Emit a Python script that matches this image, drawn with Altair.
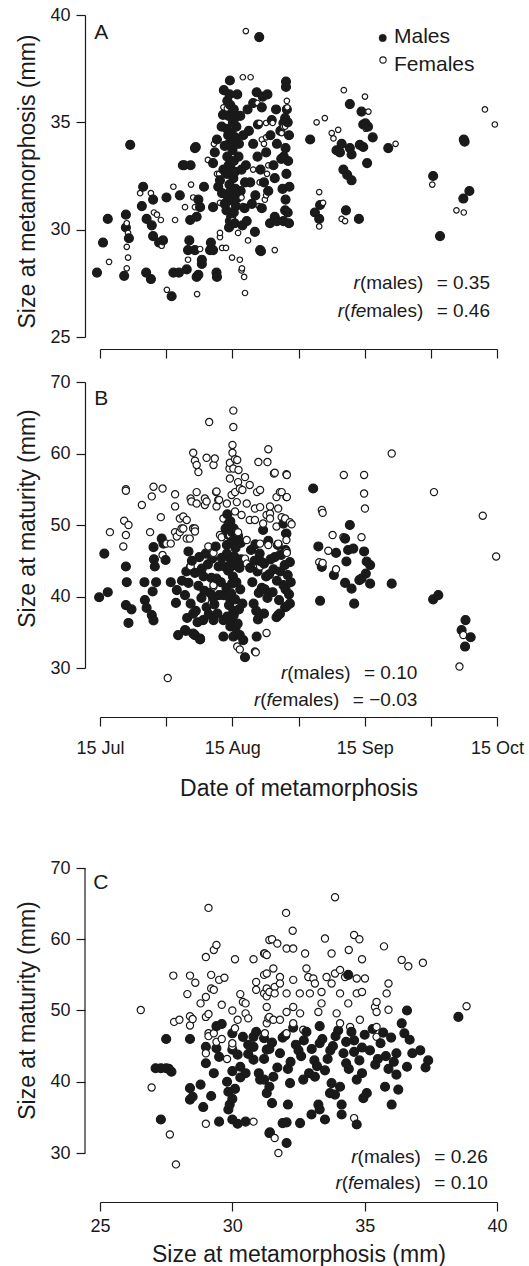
import altair as alt
import pandas as pd

FONT = "Liberation Sans"
INK = "#1a1a1a"

# ---------------- data ----------------
# Panel A: (days after 15 Jul, size at metamorphosis mm)
a_males = [
    (-0.7, 28.0), (0.7, 29.4), (1.8, 30.5), (7.0, 33.95), (6.0, 30.7), (6.0, 30.1), (6.7, 29.6), (5.6, 27.85),
    (10.0, 32.0), (12.3, 31.4), (9.7, 31.1), (10.8, 30.5), (12.0, 30.2), (12.3, 29.7), (13.7, 29.4), (14.6, 29.5),
    (10.7, 28.0), (11.8, 27.7), (15.4, 31.5), (16.6, 26.9), (17.0, 28.0), (18.3, 28.0), (18.5, 31.6), (19.2, 33.0),
    (21.0, 33.0), (22.2, 33.85), (22.4, 27.8), (23.6, 28.4), (20.7, 29.5), (20.9, 30.45), (22.4, 30.6), (23.2, 31.05),
    (22.8, 31.4), (24.1, 32.0), (25.7, 29.4), (25.5, 29.05), (27.1, 27.8), (26.2, 31.05), (27.8, 32.3), (27.4, 32.0),
    (28.3, 31.7), (26.2, 33.1), (26.6, 33.6), (27.1, 34.2), (28.2, 34.8), (28.5, 35.35), (28.7, 36.5), (30.1, 36.95),
    (22.0, 29.05), (20.4, 29.05), (23.6, 28.6), (27.0, 28.0), (22.8, 27.9), (20.1, 28.15), (26.2, 29.05), (22.0, 33.8),
    (19.5, 33.0),
    (29.5, 36.0), (30.2, 35.8), (31.0, 35.6), (29.8, 35.3), (30.8, 35.0), (29.4, 34.7), (30.5, 34.5), (31.3, 34.3),
    (29.9, 34.0), (30.7, 33.7), (29.5, 33.4), (31.0, 33.2), (30.2, 32.9), (29.4, 32.6), (30.9, 32.4), (30.0, 32.1),
    (31.4, 31.9), (29.6, 31.6), (30.6, 31.4), (31.5, 31.1), (29.3, 30.9), (30.4, 30.6), (31.2, 30.3), (29.9, 30.1),
    (32.5, 35.3), (32.2, 34.0), (32.8, 32.8), (32.0, 31.5), (28.9, 31.2), (28.6, 32.8), (28.9, 33.9), (31.8, 36.3),
    (33.5, 31.0), (33.0, 30.2),
    (30.0, 36.3), (31.2, 35.2), (29.7, 34.4), (30.9, 33.9), (29.8, 33.0), (31.3, 32.7), (30.3, 31.8), (29.4, 31.3),
    (31.0, 30.8), (30.1, 30.4), (32.1, 33.4), (32.6, 31.8), (31.6, 34.8), (33.2, 34.4), (34.2, 35.6), (33.6, 32.2),
    (34.0, 30.4), (37.3, 29.0), (36.9, 38.97), (36.3, 36.4), (37.7, 36.2), (38.8, 36.3), (37.5, 35.7), (35.5, 35.9),
    (43.1, 36.9), (43.1, 36.65), (43.3, 35.6), (42.9, 35.2), (42.5, 34.97), (35.9, 29.9), (37.1, 29.05), (39.4, 30.3),
    (40.5, 30.6), (41.0, 30.4),
    (34.5, 34.6), (35.5, 34.0), (36.5, 33.4), (37.2, 32.8), (38.0, 32.2), (36.0, 31.6), (38.5, 33.6), (39.5, 34.4),
    (40.2, 33.0), (39.0, 31.8), (41.0, 34.0), (40.5, 32.4), (34.8, 32.2), (35.2, 31.2), (37.5, 31.0), (33.8, 33.0),
    (36.6, 34.9), (39.8, 35.1), (40.8, 35.6), (41.8, 34.6),
    (43.5, 35.0), (43.8, 34.4), (43.0, 33.8), (43.6, 33.2), (43.2, 32.6), (43.9, 32.0), (43.0, 31.4), (43.5, 30.8),
    (42.5, 30.4), (43.8, 30.3), (42.0, 33.3), (42.3, 31.9), (42.6, 33.4), (42.9, 30.9),
    (48.7, 34.2), (57.9, 35.85), (60.6, 35.5), (61.0, 34.9), (61.5, 34.95), (62.1, 34.8), (63.2, 34.3), (60.2, 33.95),
    (61.0, 33.85), (61.9, 33.1), (54.8, 33.7), (56.0, 34.0), (55.6, 33.6), (57.9, 33.8), (58.3, 33.5), (56.4, 32.8),
    (57.3, 32.55), (58.3, 32.3), (51.0, 31.15), (49.8, 30.8), (50.8, 30.5), (57.0, 30.9), (60.0, 30.5), (66.8, 33.8),
    (77.2, 32.5), (78.8, 29.7), (84.3, 34.2), (84.5, 34.1), (85.6, 31.8), (84.2, 31.45),
]
a_females = [
    (2.1, 28.5), (6.2, 30.3), (6.5, 29.85), (6.2, 29.2), (6.5, 28.7), (6.2, 28.2), (9.3, 31.7), (11.8, 31.7),
    (12.5, 30.8), (13.2, 30.7), (14.1, 30.45), (14.3, 29.25), (15.5, 27.2), (17.0, 32.0), (17.4, 30.45), (19.7, 31.05),
    (20.4, 28.6), (21.1, 32.1), (21.6, 31.5), (22.0, 31.05), (22.5, 27.0), (23.2, 29.1), (25.0, 33.25), (26.4, 34.0),
    (27.1, 32.6), (27.6, 32.6), (27.8, 29.65), (28.3, 29.15), (29.2, 29.15), (27.8, 31.25), (30.3, 30.5), (30.6, 28.7),
    (32.9, 28.2), (33.4, 27.8), (33.6, 27.05), (33.1, 37.1), (33.8, 39.25), (34.3, 29.5), (35.2, 33.95), (29.4, 35.65),
    (34.9, 37.1), (36.5, 35.9), (43.3, 36.0), (43.4, 35.7), (28.6, 35.7), (37.0, 34.97), (38.5, 34.97), (40.0, 34.97),
    (37.5, 34.2), (38.0, 34.0), (42.1, 34.5), (42.5, 34.8), (35.5, 32.8), (37.0, 32.2), (38.5, 31.6), (36.8, 31.1),
    (35.8, 31.5), (39.0, 33.0), (32.8, 31.5), (33.1, 31.1), (30.8, 30.45), (32.0, 29.85), (27.8, 29.85), (40.5, 29.05),
    (32.4, 28.6), (32.8, 28.1), (56.5, 36.5), (61.4, 36.2), (62.2, 35.5), (50.2, 35.0), (52.1, 35.2), (53.7, 34.5),
    (55.2, 34.65), (54.1, 34.25), (61.6, 34.7), (68.5, 34.0), (50.8, 31.75), (51.7, 31.25), (50.8, 30.15), (56.0, 30.5),
    (56.8, 30.4), (77.0, 32.1), (82.6, 30.9), (84.3, 30.8), (89.2, 35.6), (91.5, 34.9), (38.5, 34.3),
    (38.7, 32.6), (38.6, 31.8), (38.2, 31.4), (42.9, 34.8),
]

# Panel B: (days after 15 Jul, size at maturity mm)
b_males = [
    (-0.2, 39.9), (1.0, 46.0), (1.8, 40.6), (6.0, 44.2), (6.2, 42.0), (6.0, 38.8), (6.6, 36.3), (7.3, 38.2),
    (10.3, 42.0), (10.4, 39.5), (10.8, 38.4), (12.0, 37.4), (12.4, 36.65), (12.2, 40.7), (12.4, 46.9), (12.5, 45.2),
    (12.7, 44.2), (13.0, 42.0), (14.3, 48.1), (14.7, 47.4), (15.2, 45.1), (16.4, 42.0), (17.8, 40.9), (17.6, 39.1),
    (19.7, 40.2), (18.1, 34.6), (19.9, 35.2), (22.0, 34.6), (23.2, 34.0), (20.5, 41.9),
    (21.6, 37.6), (24.7, 38.5), (23.9, 36.7), (26.3, 36.7), (28.6, 36.7), (19.7, 35.3), (21.6, 34.8), (23.2, 34.1),
    (20.5, 46.3), (21.3, 45.0), (22.0, 43.3), (22.8, 41.5), (23.5, 39.8), (21.0, 39.0), (24.0, 42.8), (25.0, 44.5),
    (25.5, 40.5), (26.5, 38.9), (24.5, 46.0), (26.0, 45.3), (27.0, 42.5), (27.6, 40.2), (26.8, 47.0), (22.2, 38.0),
    (25.2, 37.5), (20.0, 43.5), (27.5, 44.2), (23.0, 45.5),
    (19.0, 42.2), (20.2, 37.0), (22.6, 36.4), (24.2, 40.8), (25.8, 42.6), (23.6, 43.9), (26.2, 39.8), (27.2, 37.6),
    (28.6, 34.4), (30.9, 34.4), (32.4, 34.6), (33.2, 33.9), (33.6, 31.5),
    (29.5, 51.5), (30.2, 50.5), (31.0, 49.5), (29.8, 48.6), (30.6, 47.7), (31.4, 46.8), (29.4, 46.0), (30.3, 45.2),
    (31.2, 44.4), (29.7, 43.6), (30.8, 42.8), (31.6, 42.0), (29.3, 41.2), (30.4, 40.4), (31.3, 39.6), (29.9, 38.8),
    (30.9, 38.0), (29.5, 37.2), (30.5, 36.4), (31.4, 35.6), (32.3, 44.0), (32.5, 41.0), (32.2, 38.2), (28.6, 40.2),
    (28.8, 44.2), (32.6, 47.5),
    (29.8, 50.2), (30.6, 49.0), (29.4, 47.2), (31.1, 45.6), (30.0, 44.0), (30.6, 41.8), (29.7, 40.0), (31.0, 37.4),
    (30.2, 35.8), (31.9, 36.2), (32.7, 45.2), (32.0, 48.5), (28.2, 45.4), (28.0, 42.0), (33.0, 39.0), (29.1, 49.5),
    (36.3, 34.4), (37.8, 49.3), (42.5, 50.2), (43.2, 48.8), (41.7, 37.6), (43.2, 38.6), (40.9, 37.1),
    (35.0, 46.5), (35.8, 45.0), (36.5, 43.5), (35.3, 42.0), (36.8, 40.5), (35.6, 39.0), (37.0, 46.0), (38.0, 44.6),
    (38.5, 42.8), (37.5, 41.2), (38.8, 39.8), (39.5, 45.2), (40.2, 43.8), (41.0, 42.2), (40.0, 40.6), (41.5, 39.5),
    (42.0, 45.8), (42.8, 44.4), (43.5, 43.0), (42.5, 41.6), (43.8, 40.3), (41.2, 47.2), (43.0, 46.5), (44.0, 44.8),
    (39.0, 47.8), (34.8, 44.0), (41.3, 37.4), (42.9, 38.5), (36.2, 38.0), (44.2, 42.0),
    (36.0, 47.3), (37.3, 44.9), (38.2, 41.0), (39.2, 43.1), (40.5, 45.5), (41.8, 43.5), (43.0, 41.0), (44.0, 39.0),
    (36.6, 36.8), (38.0, 37.6),
    (49.4, 55.1), (57.9, 50.0), (50.6, 47.0), (54.7, 46.1), (51.4, 44.15), (54.2, 43.0), (56.8, 48.1), (57.5, 46.5),
    (57.1, 44.9), (58.7, 46.7), (56.8, 41.9), (58.3, 41.1), (51.0, 39.4), (58.9, 39.0), (61.2, 46.3), (61.8, 44.9),
    (62.6, 44.4), (61.6, 43.2), (60.6, 42.5), (62.6, 41.8), (60.1, 42.3), (67.6, 41.8), (77.2, 39.6), (78.4, 40.2),
    (84.7, 36.7), (83.8, 35.3), (85.9, 34.3), (84.6, 33.0),
]
b_females = [
    (2.3, 49.0), (5.6, 50.6), (6.6, 50.0), (6.0, 48.6), (5.4, 47.0), (6.0, 55.0), (6.0, 54.8), (9.7, 52.8),
    (12.0, 54.0), (12.4, 55.35), (14.5, 55.1), (11.6, 49.0), (14.1, 51.1), (14.5, 45.8), (15.4, 47.4), (16.4, 47.4),
    (17.4, 49.0), (17.8, 48.4), (18.9, 49.5), (19.3, 51.2), (17.4, 52.6), (17.4, 54.3), (15.7, 28.6), (20.8, 48.1),
    (21.6, 49.5), (22.0, 49.5), (21.0, 53.7), (22.4, 54.6), (21.0, 44.2), (21.6, 60.1), (22.0, 59.0), (22.4, 58.4),
    (22.8, 57.4), (24.3, 53.7), (24.7, 53.3), (25.3, 64.4), (24.7, 59.4), (26.6, 59.3), (26.3, 58.4), (27.0, 54.7),
    (27.6, 53.5), (27.0, 52.6), (26.3, 46.1), (26.3, 41.4), (25.9, 39.1), (27.8, 48.6), (30.9, 66.0), (30.9, 63.7),
    (30.7, 61.2), (30.7, 60.1), (30.1, 58.7), (31.3, 59.2), (30.0, 57.9), (30.9, 57.9), (30.1, 56.5),
    (31.8, 33.0), (32.4, 32.6), (36.1, 32.2), (36.7, 58.8), (38.6, 34.9),
    (39.0, 60.6), (31.8, 59.1), (32.1, 57.7), (38.8, 58.8), (32.0, 56.0), (33.6, 56.7), (34.7, 55.6), (40.5, 57.3),
    (43.2, 57.1), (26.9, 54.6), (30.5, 54.2), (31.3, 54.6), (32.4, 55.1), (33.0, 54.9), (36.4, 54.6), (41.7, 54.6),
    (43.2, 53.9), (21.2, 53.3), (22.4, 53.0), (24.3, 52.8), (27.4, 53.5), (29.4, 53.0), (31.7, 53.2), (34.0, 53.0),
    (35.9, 52.3), (37.1, 52.5), (39.4, 51.6), (41.3, 52.3), (42.1, 51.1), (44.0, 50.4), (18.5, 50.9), (20.1, 50.7),
    (19.3, 49.5), (21.6, 49.5), (22.0, 49.1), (20.1, 48.1), (18.5, 49.0), (28.6, 50.9), (31.3, 51.9), (32.8, 51.4),
    (34.7, 50.7), (35.9, 50.7), (37.8, 50.2), (39.4, 50.9), (40.9, 49.8), (25.1, 47.0), (28.2, 48.3), (30.1, 48.6),
    (32.0, 49.0), (34.0, 47.9), (37.1, 47.4), (39.0, 47.2), (41.3, 47.4), (43.2, 47.9), (20.9, 44.2), (26.3, 41.6),
    (33.6, 45.3), (34.0, 44.6), (37.1, 44.2), (41.7, 46.0), (43.2, 46.3), (35.9, 32.3),
    (40.3, 57.2), (43.3, 57.0), (42.1, 54.6), (40.9, 53.9), (43.3, 53.9), (37.1, 54.9), (39.4, 52.6), (38.6, 51.4),
    (42.9, 50.9), (44.4, 50.1), (42.9, 48.8), (43.3, 46.1), (56.5, 57.0), (61.2, 57.0), (61.2, 54.4), (61.4, 52.3),
    (51.4, 52.1), (51.6, 51.7), (67.6, 60.0), (77.4, 54.6), (88.7, 51.3), (91.8, 45.6), (53.9, 48.6), (56.4, 48.3),
    (60.6, 48.3), (52.9, 46.4), (50.8, 44.8), (51.6, 44.7), (54.7, 43.8), (83.3, 30.2), (84.2, 34.6),
]

# Panel C: (size at metamorphosis mm, size at maturity mm)
c_males = [
    (27.5, 46.0), (27.1, 41.9), (27.3, 41.9), (27.5, 41.9), (27.6, 41.8), (27.7, 41.4), (27.3, 34.7), (28.4, 46.0),
    (28.4, 39.1), (28.4, 37.5), (28.5, 37.9), (28.8, 39.6), (29.0, 42.6), (29.0, 44.9), (28.9, 36.45), (29.2, 38.0),
    (29.3, 41.2), (29.4, 47.8), (29.6, 48.1), (29.4, 44.7), (29.5, 43.5), (29.5, 34.4), (29.8, 40.0), (29.85, 38.6),
    (30.0, 37.6), (29.9, 36.8), (29.85, 36.1), (30.0, 34.7), (30.2, 34.1), (30.5, 34.4), (30.0, 46.8), (30.0, 44.5),
    (30.2, 43.8), (30.3, 42.1), (30.4, 46.3), (30.6, 45.2), (30.8, 46.3), (30.9, 47.0), (31.2, 46.1), (31.3, 44.5),
    (30.8, 43.1), (31.0, 41.2), (31.2, 40.3), (31.4, 39.3), (30.0, 41.5), (30.3, 40.6), (30.5, 41.2), (31.4, 32.8),
    (34.38, 55.0), (36.6, 50.0), (38.54, 49.1), (36.4, 48.2), (36.7, 45.9), (37.1, 44.4), (37.4, 43.0), (36.6, 42.1),
    (36.2, 41.0), (36.27, 38.9), (35.77, 39.3), (36.02, 36.8), (34.95, 37.7), (35.08, 38.4), (34.7, 40.3), (34.07, 39.3),
    (33.75, 39.8), (33.88, 38.2), (34.13, 36.8), (33.69, 38.4), (33.25, 36.8), (33.3, 36.1), (32.99, 35.4), (33.5, 34.7),
    (34.13, 35.4), (34.7, 34.0), (32.56, 34.2), (32.05, 34.3), (31.9, 34.2), (31.42, 32.9), (32.05, 31.4), (32.1, 36.8),
    (31.5, 37.0), (31.05, 40.3), (31.3, 38.4), (31.55, 40.7), (32.18, 39.8), (32.68, 40.3), (33.12, 40.7),
    (31.5, 45.5), (31.8, 44.0), (32.0, 46.5), (32.2, 42.8), (32.4, 45.2), (32.6, 43.6), (32.8, 47.0), (33.0, 44.6),
    (33.2, 42.2), (33.4, 46.0), (33.6, 43.2), (33.8, 45.0), (34.0, 47.2), (34.2, 44.0), (34.4, 41.8), (34.6, 45.8),
    (34.8, 43.0), (35.0, 46.6), (35.2, 44.4), (35.4, 42.4), (35.6, 45.4), (35.8, 43.6), (36.0, 46.2), (36.2, 44.0),
    (31.7, 42.0), (32.9, 41.2), (34.3, 42.6), (35.3, 47.4), (33.3, 47.8), (32.3, 47.6), (34.9, 41.2), (31.2, 43.2),
    (33.9, 46.4), (35.9, 41.8), (36.5, 46.8), (32.7, 45.8), (34.6, 44.2), (33.5, 41.6),
    (31.9, 46.2), (32.5, 44.4), (33.1, 43.0), (33.7, 44.4), (34.3, 45.6), (34.9, 44.8), (35.5, 43.2), (36.1, 42.8),
    (32.1, 41.8), (33.3, 45.4), (34.5, 47.0), (35.7, 46.9), (31.4, 44.6), (30.6, 43.9), (30.8, 44.9), (36.8, 44.0),
    (37.3, 42.0), (30.1, 39.0),
]
c_females = [
    (26.54, 50.07), (26.95, 39.2), (27.77, 54.9), (27.64, 32.6), (27.87, 28.4), (27.8, 48.4), (28.0, 48.7), (28.4, 49.2),
    (28.5, 48.8), (28.3, 52.3), (28.4, 54.9), (28.6, 53.9), (28.4, 47.9), (28.8, 51.0), (29.0, 57.5), (29.0, 51.9),
    (29.0, 49.1), (29.1, 49.5), (29.0, 44.0), (29.0, 34.1), (29.1, 64.4), (29.2, 53.1), (29.3, 52.9), (29.1, 46.8),
    (29.1, 46.4), (29.3, 46.8), (29.2, 55.0), (29.5, 54.3), (29.3, 58.5), (29.4, 59.2), (29.4, 45.6), (29.6, 46.0),
    (29.6, 50.8), (29.7, 54.6), (29.8, 43.2), (30.0, 45.0), (30.0, 45.4), (30.0, 50.0), (30.2, 48.7), (30.1, 47.5),
    (30.1, 57.2), (30.3, 52.3), (30.4, 51.2), (30.5, 51.0), (30.5, 49.6), (30.6, 48.9), (30.8, 57.2), (30.9, 54.0),
    (30.9, 52.9), (30.8, 34.4), (31.2, 58.0), (31.3, 57.8), (31.4, 59.9), (31.2, 55.0), (31.2, 52.4), (31.3, 52.0),
    (31.4, 52.6), (31.3, 50.5), (31.4, 49.1), (31.3, 48.2),
    (33.88, 65.9), (32.03, 63.7), (32.28, 61.2), (31.5, 60.0), (31.7, 59.4), (32.05, 58.7), (32.3, 58.7), (32.75, 58.0),
    (33.5, 60.1), (33.75, 58.0), (34.4, 58.5), (34.6, 60.6), (34.8, 60.0), (34.9, 57.2), (35.73, 59.0), (36.4, 57.1),
    (36.65, 56.2), (37.2, 56.7), (38.85, 50.6), (31.23, 58.0), (31.55, 55.9), (31.3, 55.2), (31.8, 54.7), (31.8, 53.8),
    (31.6, 53.3), (31.3, 53.1), (31.6, 52.4), (32.05, 52.4), (32.3, 54.3), (32.55, 52.4), (32.8, 55.9), (32.87, 54.7),
    (33.06, 54.5), (33.12, 53.8), (32.93, 52.4), (33.37, 52.6), (33.56, 54.7), (33.75, 53.8), (33.88, 55.2), (34.07, 55.7),
    (34.26, 54.7), (34.07, 52.4), (34.7, 54.5), (35.01, 54.5), (34.7, 52.4), (34.9, 52.6), (35.45, 51.2), (35.9, 53.8),
    (35.83, 52.4), (35.9, 50.1), (35.39, 50.5), (35.45, 49.8), (34.38, 51.0), (33.94, 49.6), (33.37, 51.0), (33.25, 49.8),
    (32.56, 49.6), (32.3, 50.5), (32.05, 49.8), (31.8, 48.7), (31.55, 48.7), (31.36, 48.9), (31.23, 46.8), (32.05, 46.8),
    (32.3, 48.2), (32.68, 47.3), (34.45, 47.7), (34.07, 48.2), (34.82, 48.7), (35.45, 47.7), (35.45, 46.3),
    (34.6, 34.9), (31.6, 32.1), (31.74, 30.0),
]

date_ticks = [0, 92 / 6, 2 * 92 / 6, 46, 4 * 92 / 6, 5 * 92 / 6, 92]
date_labels = ["15 Jul", "", "15 Aug", "", "15 Sep", "", "15 Oct"]
meta_ticks = [25, 30, 35, 40]
mat_ticks = [30, 40, 50, 60, 70]
r_text = {
    "A": ("0.35", "0.46"),
    "B": ("0.10", "\u22120.03"),
    "C": ("0.26", "0.10"),
}

# ---------------- helpers ----------------
W = {'r': 333, '(': 333, ')': 333, 'f': 278, 'e': 556, 'm': 833, 'a': 556, 'l': 222, 's': 500,
     ' ': 278, '=': 584, '.': 278, '\u2212': 584}
for d in "0123456789":
    W[d] = 556


def tw(s, fs):
    return sum(W[c] for c in s) * fs / 1000.0


ONE = alt.Data(values=[{}])


def label(text, x, y, size, align="left", style="normal"):
    return alt.Chart(ONE).mark_text(
        text=text, align=align, baseline="middle", font=FONT, fontSize=size,
        fontStyle=style, color=INK
    ).encode(x=alt.value(x), y=alt.value(y))


def rline(R, y, fem, value):
    fs = 19
    out = []
    val = "= " + value
    out.append(label(val, R, y, fs, align="right"))
    right = R - tw(val, fs) - 13.4
    out.append(label("males)", right, y, fs, align="right"))
    right -= tw("males)", fs)
    if fem:
        out.append(label("fe", right, y, fs, align="right", style="italic"))
        right -= tw("fe", fs)
    out.append(label("(", right, y, fs, align="right"))
    right -= tw("(", fs)
    out.append(label("r", right, y, fs, align="right", style="italic"))
    return out


MALE_SIZE = 80


def frame(males, females, open_size):
    rows = [dict(x=x, y=y, fillc=INK, sz=MALE_SIZE) for x, y in males] + \
           [dict(x=x, y=y, fillc="white", sz=open_size) for x, y in females]
    return pd.DataFrame(rows).sort_values("x", kind="stable").reset_index(drop=True)


def points(df, xdom, ydom, xaxis, yaxis):
    return alt.Chart(df).mark_point(
        shape="circle", filled=True, stroke=INK, strokeWidth=1.2, opacity=1
    ).encode(
        x=alt.X("x:Q", scale=alt.Scale(domain=xdom, nice=False, zero=False), axis=xaxis),
        y=alt.Y("y:Q", scale=alt.Scale(domain=ydom, nice=False, zero=False), axis=yaxis),
        fill=alt.Fill("fillc:N", scale=None, legend=None),
        size=alt.Size("sz:Q", scale=None, legend=None),
    )


parts = [f"abs(datum.value - {v:.4f}) < 0.5 ? '{lab}'" for v, lab in zip(date_ticks, date_labels)]
date_expr = " : ".join(parts) + " : ''"

PW = 397
HA, HB, HC0 = 322, 286, 285
EXTRA = 155
HC = HC0 + EXTRA

# ---------------- panel A ----------------
ax_a_x = alt.Axis(values=date_ticks, labels=False, title=None, offset=12)
ax_a_y = alt.Axis(values=meta_ticks, title="Size at metamorphosis (mm)", offset=15, labelPadding=6,
                  titleX=-58, titleY=166, titleAngle=270, titleBaseline="middle", titleAlign="center")
pa = points(frame(a_males, a_females, 30), [0, 92], [25, 40], ax_a_x, ax_a_y)
leg = [
    alt.Chart(ONE).mark_point(shape="circle", filled=True, fill=INK, stroke=INK, strokeWidth=0.5,
                              size=55, opacity=1).encode(x=alt.value(282.7), y=alt.value(23)),
    alt.Chart(ONE).mark_point(shape="circle", filled=True, fill="white", stroke=INK, strokeWidth=1.1,
                              size=40, opacity=1).encode(x=alt.value(283), y=alt.value(45)),
    label("Males", 294, 22, 21),
    label("Females", 294, 50, 21),
]
chart_a = alt.layer(pa, label("A", -5.7, 18.3, 21), *leg,
                    *rline(390, 268, False, r_text["A"][0]),
                    *rline(390, 295.7, True, r_text["A"][1])).properties(width=PW, height=HA)

# ---------------- panel B ----------------
ax_b_x = alt.Axis(values=date_ticks, labelExpr=date_expr, title="Date of metamorphosis", offset=49,
                  labelPadding=13, titleY=71, titleBaseline="middle")
ax_b_y = alt.Axis(values=mat_ticks, title="Size at maturity (mm)", offset=15, labelPadding=6,
                  titleX=-58, titleY=136, titleAngle=270, titleBaseline="middle", titleAlign="center")
pb = points(frame(b_males, b_females, 52), [0, 92], [30, 70], ax_b_x, ax_b_y)
chart_b = alt.layer(pb, label("B", -5.7, 17.3, 21),
                    *rline(317.3, 290.7, False, r_text["B"][0]),
                    *rline(317.3, 318, True, r_text["B"][1])).properties(width=PW, height=HB)

# ---------------- panel C ----------------
ax_c_x = alt.Axis(values=meta_ticks, format="d", title="Size at metamorphosis (mm)", offset=49,
                  labelPadding=6, titleY=52, titleBaseline="middle")
ax_c_y = alt.Axis(values=mat_ticks, domain=False, title="Size at maturity (mm)", offset=15, labelPadding=6,
                  titleX=-58, titleY=EXTRA + 142, titleAngle=270, titleBaseline="middle", titleAlign="center")
c_top = 30 + 40 * HC / HC0
pc = points(frame(c_males, c_females, 52), [25, 40], [30, c_top], ax_c_x, ax_c_y)
c_axis_line = alt.Chart(ONE).mark_rule(color=INK, strokeWidth=1.2).encode(
    x=alt.value(-15), y=alt.value(EXTRA), y2=alt.value(HC))
chart_c = alt.layer(pc, c_axis_line, label("C", -6.7, EXTRA + 15.3, 21),
                    *rline(387.7, EXTRA + 288.7, False, r_text["C"][0]),
                    *rline(387.7, EXTRA + 314.7, True, r_text["C"][1])).properties(width=PW, height=HC)

chart = alt.vconcat(chart_a, chart_b, chart_c, spacing=45, bounds="flush").properties(
    padding={"left": 15, "top": 6, "right": 4, "bottom": 2}
).configure_view(stroke=None).configure_axis(
    domainColor=INK, domainWidth=1.2, tickColor=INK, tickWidth=1.2, tickSize=9,
    labelFont=FONT, labelFontSize=18, labelColor=INK, titleFont=FONT, titleFontSize=23,
    titleFontWeight="normal", titleColor=INK, grid=False, labelFlush=False, labelOverlap=False
)

chart.save("out.html", embed_options={"renderer": "svg", "actions": False})
